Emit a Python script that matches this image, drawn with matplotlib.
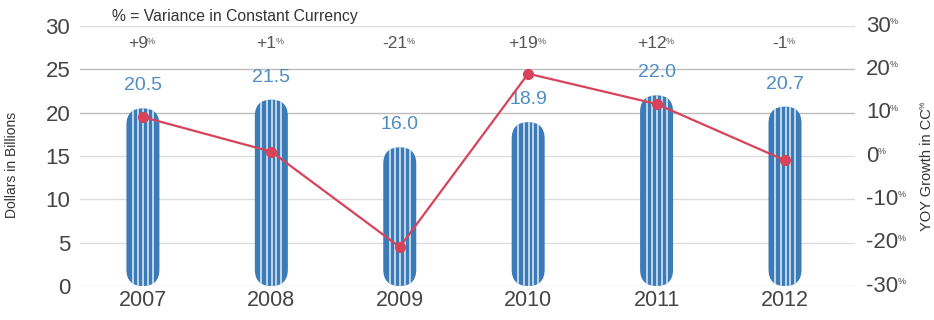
import matplotlib
matplotlib.use("Agg")
import matplotlib.pyplot as plt
from matplotlib.patches import FancyBboxPatch
from matplotlib.transforms import blended_transform_factory
import numpy as np

years = ["2007", "2008", "2009", "2010", "2011", "2012"]
revenue = [20.5, 21.5, 16.0, 18.9, 22.0, 20.7]
growth = [9, 1, -21, 19, 12, -1]
growth_labels = ["+9", "+1", "-21", "+19", "+12", "-1"]
left_ticks = [0, 5, 10, 15, 20, 25, 30]
right_ticks = [-30, -20, -10, 0, 10, 20, 30]

plt.rcParams['font.family'] = ['Liberation Sans', 'DejaVu Sans']

BAR = "#3a7bb8"
STRIPE = "#e6eef7"
LBL = "#4f8cc4"
RED = "#d8435a"
GRAY = "#444444"

fig = plt.figure(figsize=(9.34, 3.2), dpi=100)
ax = fig.add_axes([80/934, 34/320, 775/934, 260/320])
x = np.arange(len(years))
ax.set_xlim(-0.49, 5.545)
ax.set_ylim(0, 30)
for s in ax.spines.values():
    s.set_visible(False)
ax.set_yticks(left_ticks)
ax.set_yticklabels([str(t) for t in left_ticks])
ax.tick_params(axis='y', length=0, labelsize=16, labelcolor=GRAY, pad=7)
ax.set_xticks(x)
ax.set_xticklabels(years)
ax.tick_params(axis='x', length=0, labelsize=15.5, labelcolor=GRAY, pad=3)
for t in left_ticks:
    ax.axhline(t, color="#bdbdbd" if t in (20, 25) else "#dddddd", lw=1, zorder=0)

# scale
p0 = ax.transData.transform((0, 0))
px_x = ax.transData.transform((1, 0))[0] - p0[0]
px_y = ax.transData.transform((0, 1))[1] - p0[1]
hw = 16.5 / px_x
aspect = px_x / px_y

for xi, v in zip(x, revenue):
    patch = FancyBboxPatch((xi - hw, 0), 2 * hw, v,
                           boxstyle=f"round,pad=0,rounding_size={hw}",
                           mutation_aspect=aspect, facecolor=BAR,
                           edgecolor='none', zorder=2)
    ax.add_patch(patch)
    for off in [-10, -4.5, 0.5, 5, 10]:
        ln, = ax.plot([xi + off / px_x] * 2, [0, v], color=STRIPE, lw=1.1,
                      zorder=3, solid_capstyle='butt')
        ln.set_clip_path(patch)
    ax.text(xi, v + 1.6, f"{v:.1f}", ha='center', va='bottom',
            fontsize=14, color=LBL, zorder=4)

for xi, g in zip(x, growth_labels):
    t = ax.text(xi - 0.04, 28.0, g, ha='center', va='center',
                fontsize=12.5, color="#555555")
    ax.annotate("%", xy=(1.0, 1.0), xycoords=t, xytext=(-0.5, -0.5),
                textcoords='offset points', fontsize=6.5, color="#555555",
                ha='left', va='top')

fig.text(112/934, 1 - 17/320, "% = Variance in Constant Currency",
         fontsize=11.3, color="#333333", ha='left', va='center')
fig.text(12/934, 155/320, "Dollars in Billions", rotation=90, ha='center',
         va='center', fontsize=10, color="#333333")
yl = fig.text(927/934, 150/320, "YOY Growth in CC", rotation=90, ha='center',
              va='center', fontsize=10.5, color="#333333")
ax.annotate("%", xy=(0.0, 1.0), xycoords=yl, xytext=(0, 0),
            textcoords='offset points', fontsize=6, color="#333333",
            rotation=90, ha='left', va='bottom')

ax2 = ax.twinx()
ax2.set_ylim(-30, 30)
for s in ax2.spines.values():
    s.set_visible(False)
ax2.set_yticks(right_ticks)
ax2.set_yticklabels([])
ax2.tick_params(axis='y', length=0)
tr = blended_transform_factory(ax2.transAxes, ax2.transData)
for t in right_ticks:
    tt = ax2.text(1.014, t, str(t), transform=tr, ha='left', va='center',
                  fontsize=16, color=GRAY)
    ax2.annotate("%", xy=(1.0, 1.0), xycoords=tt, xytext=(-0.5, -1),
                 textcoords='offset points', fontsize=6.5, color=GRAY,
                 ha='left', va='top')
ax2.plot(x, growth, color=RED, lw=1.6, marker='o', markersize=7,
         markerfacecolor=RED, markeredgecolor=RED, zorder=5)

fig.savefig("out.png", dpi=100)
